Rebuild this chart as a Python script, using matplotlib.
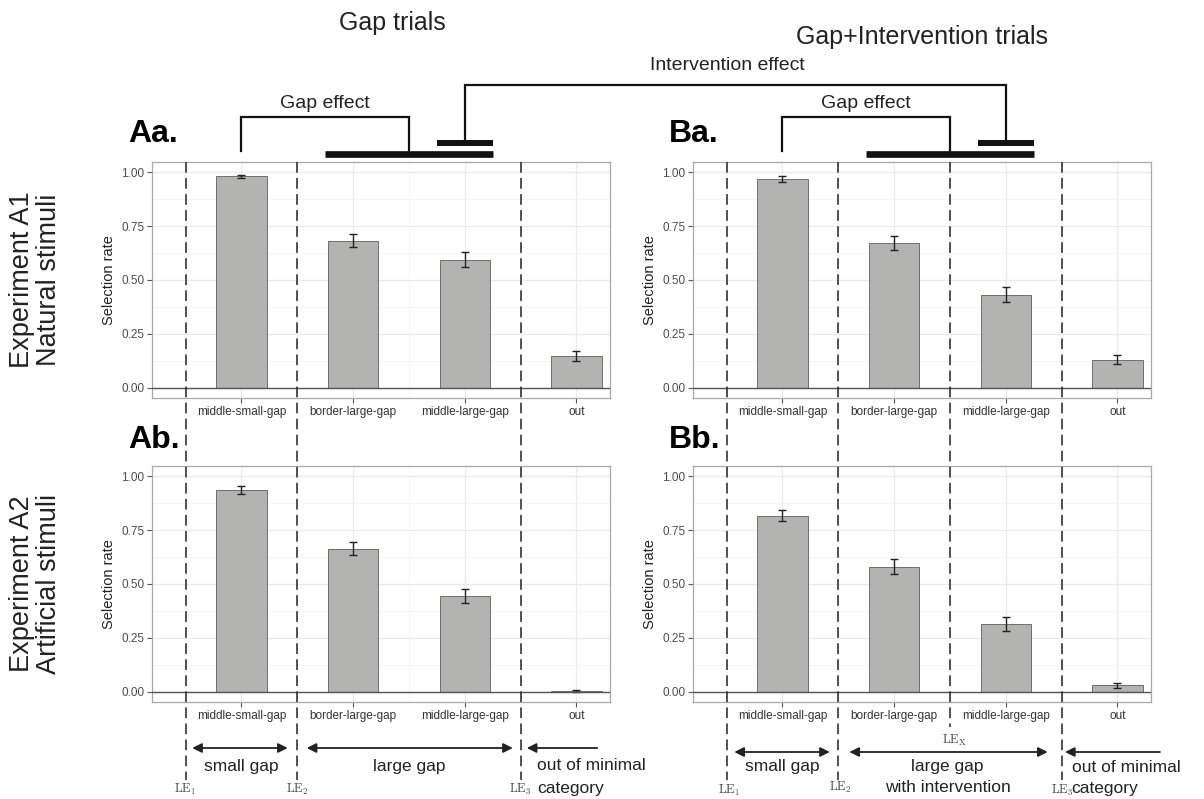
import numpy as np
import matplotlib
matplotlib.use("Agg")
import matplotlib.pyplot as plt

plt.rcParams["font.family"] = ["Liberation Sans", "DejaVu Sans"]
plt.rcParams["mathtext.fontset"] = "cm"

# Data
categories = ["LE1", "middle-small-gap", "LE2", "border-large-gap", "LEX", "middle-large-gap", "LE3", "out"]
tick_labels = ["middle-small-gap", "border-large-gap", "middle-large-gap", "out"]

Aa_rate = [0, 0.980, 0, 0.682, 0, 0.594, 0, 0.148]
Aa_err = [0, 0.008, 0, 0.031, 0, 0.034, 0, 0.023]
Ba_rate = [0, 0.968, 0, 0.671, 0, 0.432, 0, 0.131]
Ba_err = [0, 0.013, 0, 0.031, 0, 0.035, 0, 0.022]
Ab_rate = [0, 0.935, 0, 0.663, 0, 0.444, 0, 0.005]
Ab_err = [0, 0.018, 0, 0.030, 0, 0.032, 0, 0.003]
Bb_rate = [0, 0.817, 0, 0.581, 0, 0.316, 0, 0.031]
Bb_err = [0, 0.027, 0, 0.034, 0, 0.033, 0, 0.011]

W, H = 1204, 799
fig = plt.figure(figsize=(W / 100, H / 100), dpi=100)
fig.patch.set_facecolor("white")


def rect(l, t, r, b):
    return [l / W, 1 - b / H, (r - l) / W, (b - t) / H]


def bar_panel(ax, rate, err):
    x = np.arange(len(categories))
    ax.bar(x, rate, width=0.9, color="#b3b3b1", edgecolor="#6e6e6e", linewidth=0.7, zorder=3)
    labelled = [i for i, c in enumerate(categories) if c in tick_labels]
    ax.errorbar([x[i] for i in labelled], [rate[i] for i in labelled], yerr=[err[i] for i in labelled],
                fmt="none", ecolor="#222222", elinewidth=1.0, capsize=3, capthick=1.0, zorder=4)
    ax.axhline(0, color="#555555", lw=1.0, zorder=5)
    ax.set_xlim(-0.6, len(categories) - 0.4)
    ax.set_ylim(-0.0463, 1.0463)
    ax.set_xticks(labelled)
    ax.set_xticklabels(tick_labels, fontsize=8.5, color="#333333")
    ax.set_xticks([i for i in x if i not in labelled], minor=True)
    ax.set_yticks([0, 0.25, 0.5, 0.75, 1.0])
    ax.set_yticklabels(["0.00", "0.25", "0.50", "0.75", "1.00"], fontsize=8.5, color="#4d4d4d")
    ax.set_yticks([0.125, 0.375, 0.625, 0.875], minor=True)
    ax.tick_params(axis="both", which="major", length=3.5, color="#555555", width=0.8, pad=2)
    ax.tick_params(axis="both", which="minor", length=0)
    ax.grid(True, which="major", color="#ebebeb", lw=0.9, zorder=0)
    ax.grid(True, which="minor", color="#f5f5f5", lw=0.6, zorder=0)
    ax.set_axisbelow(True)
    for s in ax.spines.values():
        s.set_color("#a8a8a8")
        s.set_linewidth(0.9)
    ax.set_ylabel("Selection rate", fontsize=10.5, color="#222222", labelpad=4)


axAa = fig.add_axes(rect(152, 162, 610, 398))
axBa = fig.add_axes(rect(693, 162, 1151, 398))
axAb = fig.add_axes(rect(152, 466, 610, 702))
axBb = fig.add_axes(rect(693, 466, 1151, 702))
bar_panel(axAa, Aa_rate, Aa_err)
bar_panel(axBa, Ba_rate, Ba_err)
bar_panel(axAb, Ab_rate, Ab_err)
bar_panel(axBb, Bb_rate, Bb_err)

# Overlay in pixel coordinates for brackets, dashed boundaries and annotations
ov = fig.add_axes([0, 0, 1, 1], zorder=10)
ov.set_xlim(0, W)
ov.set_ylim(H, 0)
ov.axis("off")
ov.patch.set_alpha(0)


def px(ax, xd):
    return ax.transData.transform((xd, 0))[0]


# Titles and panel letters
ov.text(392, 23, "Gap trials", fontsize=18, ha="center", va="center", color="#222222")
ov.text(922, 37, "Gap+Intervention trials", fontsize=18, ha="center", va="center", color="#222222")
for ax, lab, yb in [(axAa, "Aa.", 142), (axBa, "Ba.", 142), (axAb, "Ab.", 448), (axBb, "Bb.", 448)]:
    ov.text(px(ax, -0.6) - 24, yb, lab, fontsize=23, fontweight="bold", ha="left", va="baseline")

ov.text(36, 280, "Experiment A1\nNatural stimuli", fontsize=19.5, rotation=90, ha="center", va="center",
        color="#222222", linespacing=1.05)
ov.text(36, 584, "Experiment A2\nArtificial stimuli", fontsize=19.5, rotation=90, ha="center", va="center",
        color="#222222", linespacing=1.05)

# Gap effect brackets
blw = 1.6
for ax in [axAa, axBa]:
    x1, x4 = px(ax, 1), px(ax, 4)
    ov.plot([x1, x1, x4, x4], [151, 117, 117, 153], color="#111111", lw=blw, solid_joinstyle="miter")
    ov.text((x1 + x4) / 2, 104, "Gap effect", fontsize=14, ha="center", va="center", color="#222222")
    ov.plot([px(ax, 2.5), px(ax, 5.5)], [153.5, 153.5], color="#111111", lw=4.8, solid_capstyle="butt")
    ov.plot([px(ax, 4.5), px(ax, 5.5)], [143, 143], color="#111111", lw=4.3, solid_capstyle="butt")

# Intervention effect bracket
xa, xb = px(axAa, 5), px(axBa, 5)
ov.plot([xa, xa, xb, xb], [143, 85, 85, 143], color="#111111", lw=blw, solid_joinstyle="miter")
ov.text(727, 66, "Intervention effect", fontsize=14, ha="center", va="center", color="#222222")

# Dashed boundary lines (LE positions)
dash = dict(color="#222222", lw=1.1, linestyle=(0, (7, 3.5)), zorder=20)
for ax in [axAa, axBa]:
    for pos in [0, 2, 6]:
        ov.plot([px(ax, pos)] * 2, [162, 780], **dash)
ov.plot([px(axBa, 4)] * 2, [162, 727], **dash)

# Bottom annotations
arr = dict(color="#222222", lw=1.3, mutation_scale=14, shrinkA=0, shrinkB=0)
ax = axAb
ov.annotate("", xy=(px(ax, 1.83), 748), xytext=(px(ax, 0.12), 748), arrowprops=dict(arrowstyle="<|-|>", **arr))
ov.annotate("", xy=(px(ax, 5.86), 748), xytext=(px(ax, 2.17), 748), arrowprops=dict(arrowstyle="<|-|>", **arr))
ov.annotate("", xy=(px(ax, 6.11), 748), xytext=(px(ax, 7.37), 748), arrowprops=dict(arrowstyle="-|>", **arr))
ov.text(px(ax, 1.0), 766, "small gap", fontsize=12.5, ha="center", va="center", color="#222222")
ov.text(px(ax, 4.0), 766, "large gap", fontsize=12.5, ha="center", va="center", color="#222222")
ov.text(px(ax, 6.29), 766, "out of minimal", fontsize=12.5, ha="left", va="center", color="#222222")
ov.text(px(ax, 6.29), 788, "category", fontsize=12.5, ha="left", va="center", color="#222222")
for pos, lab in [(0, r"$\mathrm{LE}_1$"), (2, r"$\mathrm{LE}_2$"), (6, r"$\mathrm{LE}_3$")]:
    ov.text(px(ax, pos), 789, lab, fontsize=9, ha="center", va="center", color="#444444")

ax = axBb
ov.annotate("", xy=(px(ax, 1.85), 752), xytext=(px(ax, 0.14), 752), arrowprops=dict(arrowstyle="<|-|>", **arr))
ov.annotate("", xy=(px(ax, 5.75), 752), xytext=(px(ax, 2.2), 752), arrowprops=dict(arrowstyle="<|-|>", **arr))
ov.annotate("", xy=(px(ax, 6.06), 752), xytext=(px(ax, 7.76), 752), arrowprops=dict(arrowstyle="-|>", **arr))
ov.text(px(ax, 4.09), 740, r"$\mathrm{LE}_\mathrm{X}$", fontsize=9, ha="center", va="center", color="#444444")
ov.text(px(ax, 1.0), 767, "small gap", fontsize=12.5, ha="center", va="center", color="#222222")
ov.text(px(ax, 3.96), 767, "large gap", fontsize=12.5, ha="center", va="center", color="#222222")
ov.text(px(ax, 3.96), 788, "with intervention", fontsize=12.5, ha="center", va="center", color="#222222")
ov.text(px(ax, 6.18), 767, "out of minimal", fontsize=12.5, ha="left", va="center", color="#222222")
ov.text(px(ax, 6.18), 788, "category", fontsize=12.5, ha="left", va="center", color="#222222")
for pos, lab, yy in [(0.04, r"$\mathrm{LE}_1$", 790), (2.04, r"$\mathrm{LE}_2$", 787), (6.02, r"$\mathrm{LE}_3$", 790)]:
    ov.text(px(ax, pos), yy, lab, fontsize=9, ha="center", va="center", color="#444444")

fig.savefig("out.png", dpi=100)
